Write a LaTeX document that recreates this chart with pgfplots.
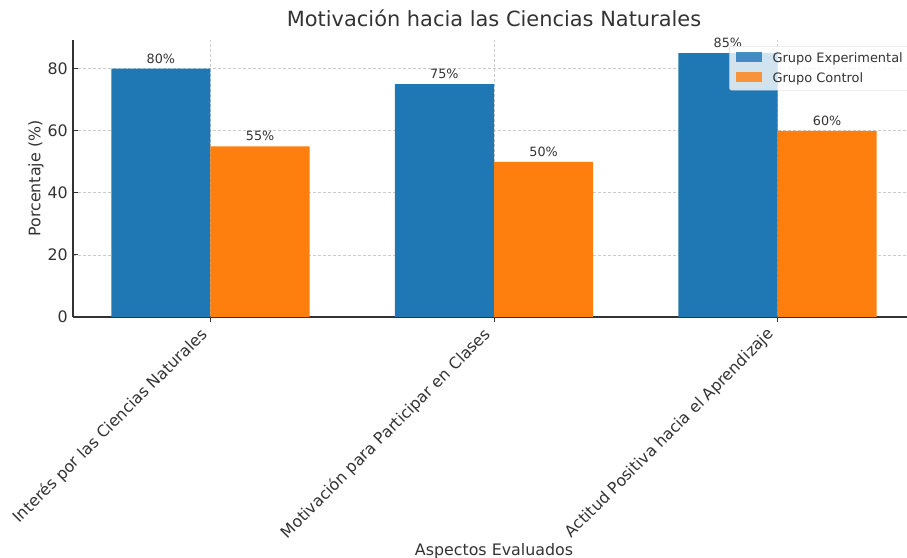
\documentclass[border=0pt]{standalone}
\usepackage{fontspec}
\setmainfont{DejaVu Sans}
\usepackage{pgfplots}
\pgfplotsset{compat=1.18}
\definecolor{mblue}{HTML}{1F77B4}
\definecolor{morange}{HTML}{FF7F0E}
\definecolor{txt}{HTML}{333333}
\definecolor{spine}{HTML}{333333}
\definecolor{gridc}{HTML}{CBCBCB}
\begin{document}
\begin{tikzpicture}
\useasboundingbox (0,0) rectangle (907bp,558bp);
\clip (0,0) rectangle (907bp,558bp);
\begin{axis}[
  at={(73bp,241bp)}, anchor=south west,
  scale only axis, width=842bp, height=277bp,
  xmin=-0.485, xmax=2.485, ymin=0, ymax=89.25,
  axis x line*=bottom, axis y line*=left,
  axis line style={-, spine, line width=1.1bp},
  tick align=inside, major tick length=5bp,
  tick style={spine, line width=1bp},
  xtick={0,1,2},
  xticklabels={Interés por las Ciencias Naturales, Motivación para Participar en Clases, Actitud Positiva hacia el Aprendizaje},
  ytick={0,20,40,60,80},
  tick label style={font=\fontsize{15.9}{15.9}\selectfont, text=txt},
  /pgf/number format/assume math mode=true,
  xticklabel style={rotate=45, anchor=east, inner sep=0pt, xshift=-11bp, yshift=-3bp},
  yticklabel style={inner sep=0pt, xshift=-5bp},
  xmajorgrids, ymajorgrids,
  major grid style={gridc, dash pattern=on 3bp off 2bp, line width=0.8bp},
  title={Motivación hacia las Ciencias Naturales},
  title style={at={(axis description cs:0.5,1)}, anchor=base, yshift=8bp, inner sep=0pt, font=\fontsize{21}{21}\selectfont, text=txt},
  xlabel={Aspectos Evaluados},
  xlabel style={at={(axis description cs:0.5,0)}, anchor=base, yshift=-238.7bp, inner sep=0pt, font=\fontsize{15.9}{15.9}\selectfont, text=txt},
  ylabel={Porcentaje (\%)},
  ylabel style={at={(axis description cs:0,0.5)}, anchor=center, yshift=37bp, inner sep=0pt, font=\fontsize{15.9}{15.9}\selectfont, text=txt},
  ybar, bar width=0.35,
  nodes near coords={\pgfmathprintnumber{\pgfplotspointmeta}\%},
  every node near coord/.append style={font=\fontsize{12.8}{12.8}\selectfont, text=txt, anchor=base, inner sep=0pt, yshift=5.7bp},
  legend image code/.code={\path[#1, draw=none, sharp corners] (0bp,0bp) rectangle (26bp,10bp);},
  legend cell align=left,
  legend style={at={(axis description cs:1,1)}, anchor=north east, xshift=-6bp, yshift=-6bp,
    fill=white, fill opacity=0.8, text opacity=1, draw=gray!35, rounded corners=2bp,
    inner xsep=6bp, inner ysep=5bp, row sep=6bp,
    font=\fontsize{13}{13}\selectfont,
    nodes={anchor=base west, inner sep=0pt, text height=11bp, text depth=3bp, text=txt},
    /tikz/every odd column/.append style={column sep=11bp}},
]
\addplot[fill=mblue, draw=none, bar shift=-0.175] coordinates {(0,80) (1,75) (2,85)};
\addlegendentry{Grupo Experimental}
\addplot[fill=morange, draw=none, bar shift=0.175] coordinates {(0,55) (1,50) (2,60)};
\addlegendentry{Grupo Control}
\end{axis}
\end{tikzpicture}
\end{document}
